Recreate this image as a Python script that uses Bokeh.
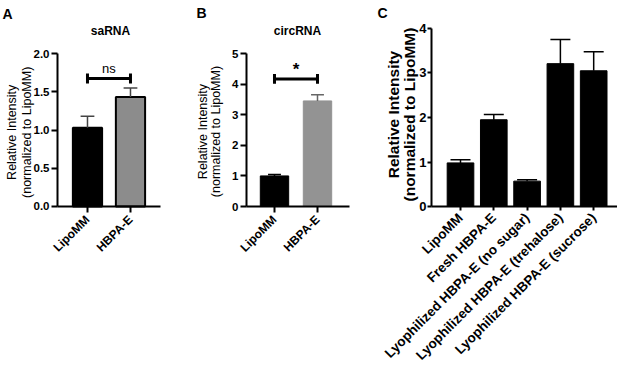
import math
from bokeh.plotting import figure
from bokeh.layouts import row
from bokeh.models import FixedTicker, Label, ColumnDataSource
from bokeh.embed import file_html
from bokeh.resources import INLINE

# ---- data ----
a_cats = ["LipoMM", "HBPA-E"]
a_vals = [1.03, 1.43]
a_errs = [0.15, 0.12]
a_bracket = 1.673

b_cats = ["LipoMM", "HBPA-E"]
b_vals = [1.00, 3.45]
b_errs = [0.05, 0.20]
b_bracket = 4.17

c_cats = ["LipoMM", "Fresh HBPA-E", "Lyophilized HBPA-E (no sugar)",
          "Lyophilized HBPA-E (trehalose)", "Lyophilized HBPA-E (sucrose)"]
c_vals = [0.98, 1.95, 0.57, 3.21, 3.05]
c_errs = [0.07, 0.12, 0.03, 0.54, 0.43]

FONT = "Liberation Sans"
YL1 = "Relative Intensity"
YL2 = "(normalized to LipoMM)"
H = 370


def base_fig(width, xr, yr, yaxis_x, xb, yb, yticks, ylabfmt, cats, ytick_size,
             xlab_size, tick_out, ystand):
    p = figure(width=width, height=H, x_range=xr, y_range=yr,
               output_backend="svg", toolbar_location=None,
               min_border_left=0, min_border_right=0,
               min_border_top=0, min_border_bottom=0)
    p.title.visible = False
    p.outline_line_color = None
    p.xgrid.visible = False
    p.ygrid.visible = False
    for ax in (p.xaxis[0], p.yaxis[0]):
        ax.axis_line_width = 2
        ax.axis_line_color = "black"
        ax.major_tick_line_width = 2
        ax.major_tick_line_color = "black"
        ax.major_tick_in = 0
        ax.major_tick_out = tick_out
        ax.minor_tick_line_color = None
        ax.major_label_text_font = FONT
        ax.major_label_text_font_style = "bold"
        ax.major_label_text_color = "black"
    p.yaxis.fixed_location = yaxis_x
    p.xaxis.fixed_location = 0
    p.yaxis.bounds = yb
    p.xaxis.bounds = xb
    p.yaxis.ticker = FixedTicker(ticks=yticks)
    p.yaxis.major_label_text_font_size = ytick_size
    p.yaxis.major_label_standoff = ystand
    p.yaxis.major_label_overrides = {t: ylabfmt.format(t) for t in yticks}
    xt = list(range(len(cats)))
    p.xaxis.ticker = FixedTicker(ticks=xt)
    p.xaxis.major_label_overrides = {i: c for i, c in zip(xt, cats)}
    p.xaxis.major_label_orientation = math.pi / 4
    p.xaxis.major_label_text_font_size = xlab_size
    p.xaxis.major_label_standoff = 5
    return p


def ylabel(p, x1, x2, y, size, style):
    for x, t in ((x1, YL1), (x2, YL2)):
        p.add_layout(Label(x=x, y=y, text=t, angle=math.pi / 2, text_align="center",
                           text_baseline="middle", text_font=FONT, text_font_size=size,
                           text_font_style=style, text_color="black"))


def errbars(p, x, vals, errs, color, width, cap):
    src = ColumnDataSource(dict(x=x, y0=vals, y1=[v + e for v, e in zip(vals, errs)],
                                xl=[xx - cap for xx in x], xr=[xx + cap for xx in x]))
    p.segment(x0="x", y0="y0", x1="x", y1="y1", source=src,
              line_color=color, line_width=width)
    p.segment(x0="xl", y0="y1", x1="xr", y1="y1", source=src,
              line_color=color, line_width=width)


def bracket(p, y, dy, text, text_offset, size, style):
    p.segment(x0=[0], y0=[y], x1=[1], y1=[y], line_color="black", line_width=3)
    p.segment(x0=[0, 1], y0=[y - dy, y - dy], x1=[0, 1], y1=[y + dy, y + dy],
              line_color="black", line_width=3)
    p.add_layout(Label(x=0.5, y=y, text=text, text_align="center",
                       text_baseline="bottom", y_offset=text_offset,
                       text_font=FONT, text_font_size=size, text_font_style=style,
                       text_color="black"))


def text(p, x, y, t, size, align="center", baseline="middle"):
    p.add_layout(Label(x=x, y=y, text=t, text_align=align, text_baseline=baseline,
                       text_font=FONT, text_font_size=size, text_font_style="bold",
                       text_color="black"))


# ---- Panel A ----  page x 0..183 ; x: 0 at 87px, 43 px/unit ; y: 0 at 206px, 76.5 px/unit
pa = base_fig(183, (-2.023, 2.233), (-2.144, 2.693), -0.698, (-0.698, 1.70), (0, 2.0),
              [0, 0.5, 1.0, 1.5, 2.0], "{:.1f}", a_cats, "11.5px", "12px", 6, 2)
xa = [0, 1]
pa.vbar(x=xa, top=a_vals, width=0.68, fill_color=["black", "#8c8c8c"],
        line_color="black", line_width=2)
errbars(pa, xa, a_vals, a_errs, "#444444", 1.5, 0.16)
bracket(pa, a_bracket, 0.065, "ns", 3, "13px", "normal")
text(pa, 0.535, 2.30, "saRNA", "12px")
text(pa, -1.977, 2.627, "A", "14px", "left", "top")
ylabel(pa, -1.75, -1.40, 0.97, "12.5px", "normal")

# ---- Panel B ----  page x 183..360 ; x: 0 at 274px, 43 px/unit ; y: 0 at 206px, 30.6 px/unit
pb = base_fig(177, (-2.116, 2.0), (-5.359, 6.732), -0.651, (-0.651, 1.744), (0, 5),
              [0, 1, 2, 3, 4, 5], "{:d}", b_cats, "11.5px", "12px", 6, 2)
xb = [0, 1]
pb.vbar(x=xb, top=b_vals, width=0.66, fill_color=["black", "#939393"],
        line_color=["black", "#939393"], line_width=1)
errbars(pb, [1], [b_vals[1]], [b_errs[1]], "#666666", 1.5, 0.15)
errbars(pb, [0], [b_vals[0]], [b_errs[0]], "black", 1.5, 0.15)
bracket(pb, b_bracket, 0.16, "*", 0, "17px", "bold")
text(pb, 0.535, 5.75, "circRNA", "12px")
text(pb, -1.814, 6.569, "B", "14px", "left", "top")
ylabel(pb, -1.67, -1.35, 2.45, "12.5px", "normal")

# ---- Panel C ----  page x 360..617 ; x: 0 at 460px, 33.3 px/unit ; y: 0 at 206px, 44.5 px/unit
pc = base_fig(257, (-3.003, 4.715), (-3.685, 4.629), -0.871, (-0.871, 4.715), (0, 4),
              [0, 1, 2, 3, 4], "{:d}", c_cats, "13px", "13.5px", 4, 1)
xc = list(range(len(c_cats)))
pc.vbar(x=xc, top=c_vals, width=0.8, fill_color="black", line_color="black")
errbars(pc, xc, c_vals, c_errs, "black", 1.5, 0.3)
text(pc, -2.49, 4.517, "C", "14px", "left", "top")
ylabel(pc, -2.0, -1.52, 2.067, "15.5px", "bold")

layout = row(pa, pb, pc, spacing=0)
open("out.html", "w").write(file_html(layout, INLINE))
